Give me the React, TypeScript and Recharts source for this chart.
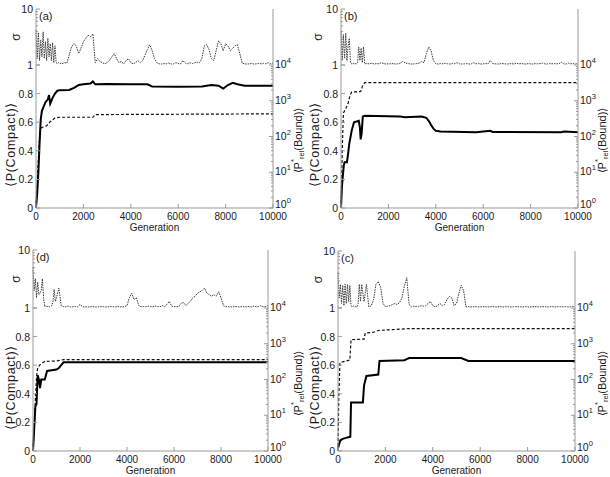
import React from 'react';
import { LineChart, Line, XAxis, YAxis } from 'recharts';

const FONT = '"Liberation Sans", Arial, Helvetica, sans-serif';
const AXIS = '#9a9a9a';
const TXT = '#1a1a1a';

// ---------- ticks ----------
const GEN_TICKS = [0, 2000, 4000, 6000, 8000, 10000];
const SIGMA_TICKS = [1, 2, 3, 4, 5, 6, 7, 8, 9, 10];
const COMPACT_TICKS = [0, 0.2, 0.4, 0.6, 0.8, 1];
const REL_TICKS = [
  1, 2, 3, 4, 5, 6, 7, 8, 9, 10, 20, 30, 40, 50, 60, 70, 80, 90, 100, 200, 300, 400, 500, 600, 700, 800,
  900, 1000, 2000, 3000, 4000, 5000, 6000, 7000, 8000, 9000, 10000,
];

// ---------- sigma generation grid ----------
const SIGMA_GEN = [
  0, 50, 100, 150, 200, 250, 300, 350, 400, 450, 500, 550, 600, 650, 700, 750, 800, 850, 900, 950, 1000,
  1100, 1200, 1300, 1400, 1500, 1600, 1700, 1800, 1900, 2000,
  2100, 2200, 2300, 2400, 2500, 2600, 2700, 2800, 2900, 3000,
  3100, 3200, 3300, 3400, 3500, 3600, 3700, 3800, 3900, 4000,
  4100, 4200, 4300, 4400, 4500, 4600, 4700, 4800, 4900, 5000,
  5100, 5200, 5300, 5400, 5500, 5600, 5700, 5800, 5900, 6000,
  6100, 6200, 6300, 6400, 6500, 6600, 6700, 6800, 6900, 7000,
  7100, 7200, 7300, 7400, 7500, 7600, 7700, 7800, 7900, 8000,
  8100, 8200, 8300, 8400, 8500, 8600, 8700, 8800, 8900, 9000,
  9100, 9200, 9300, 9400, 9500, 9600, 9700, 9800, 9900, 10000,
];

// ---------- panel (a) ----------
const sigmaA = [
  4.2, 1.3, 3.8, 1.2, 2.8, 1.4, 3.9, 1.3, 2.6, 1.2, 3.0, 1.4, 2.4, 1.2, 2.5, 1.1, 2.2, 1.1, 1.05, 1.1, 1.08,
  1.05, 1.1, 1.08, 1.5, 2.1, 2.4, 2.2, 1.6, 2.0, 2.6,
  3.0, 3.4, 3.2, 3.6, 1.1, 1.3, 1.15, 1.1, 1.05, 1.1,
  1.2, 1.4, 1.6, 1.3, 1.1, 1.15, 1.05, 1.2, 1.3, 1.1,
  1.05, 1.1, 1.2, 1.1, 1.2, 1.5, 1.9, 2.3, 1.8, 1.3,
  1.1, 1.05, 1.04, 1.06, 1.05, 1.08, 1.04, 1.05, 1.1, 1.06,
  1.05, 1.2, 1.08, 1.05, 1.1, 1.06, 1.1, 1.12, 1.1, 1.3,
  2.2, 2.3, 1.9, 1.3, 1.2, 1.8, 2.7, 2.4, 1.8, 2.4,
  2.2, 1.8, 2.0, 2.2, 2.3, 1.6, 1.08, 1.05, 1.04, 1.05,
  1.06, 1.04, 1.05, 1.07, 1.05, 1.06, 1.05, 1.1, 1.06, 1.08,
];
const compactA: [number, number][] = [
  [0, 0], [50, 0.1], [100, 0.25], [150, 0.45], [200, 0.62], [250, 0.68], [300, 0.7], [400, 0.74],
  [500, 0.76], [550, 0.79], [600, 0.73], [700, 0.77], [800, 0.8], [900, 0.82], [1000, 0.823],
  [1400, 0.825], [1600, 0.84], [1800, 0.86], [2000, 0.865], [2300, 0.87], [2400, 0.885], [2500, 0.865],
  [3000, 0.867], [4000, 0.865], [4700, 0.865], [4900, 0.85], [6000, 0.848], [7000, 0.85], [7400, 0.86],
  [7700, 0.855], [7900, 0.835], [8100, 0.86], [8300, 0.875], [8500, 0.865], [8800, 0.855], [10000, 0.855],
];
const relA: [number, number][] = [
  [0, 1], [50, 4], [100, 23], [150, 90], [200, 170], [300, 185], [450, 200], [600, 260], [800, 330],
  [1000, 345], [2400, 345], [2500, 410], [10000, 430],
];

// ---------- panel (b) ----------
const sigmaB = [
  4.0, 1.2, 3.5, 1.3, 3.7, 1.2, 2.2, 3.0, 1.1, 1.05, 1.08, 1.04, 1.06, 1.05, 1.1, 2.1, 1.2, 2.0, 1.1, 2.1, 1.05,
  1.06, 1.05, 1.08, 1.04, 1.06, 1.05, 1.1, 1.06, 1.04, 1.05,
  1.05, 1.06, 1.04, 1.05, 1.08, 1.15, 1.1, 1.06, 1.05, 1.04,
  1.05, 1.06, 1.08, 1.15, 1.1, 1.6, 2.1, 1.8, 1.2, 1.05,
  1.04, 1.06, 1.05, 1.08, 1.05, 1.04, 1.06, 1.05, 1.1, 1.05,
  1.04, 1.05, 1.06, 1.04, 1.05, 1.1, 1.05, 1.06, 1.04, 1.05,
  1.06, 1.05, 1.2, 1.06, 1.05, 1.04, 1.05, 1.06, 1.05, 1.04,
  1.05, 1.06, 1.04, 1.08, 1.05, 1.06, 1.05, 1.04, 1.06, 1.05,
  1.04, 1.06, 1.05, 1.06, 1.08, 1.05, 1.04, 1.06, 1.05, 1.06,
  1.05, 1.06, 1.12, 1.05, 1.04, 1.08, 1.05, 1.06, 1.04, 1.08,
];
const compactB: [number, number][] = [
  [0, 0], [40, 0.15], [80, 0.23], [120, 0.3], [150, 0.32], [250, 0.32], [300, 0.38], [350, 0.45],
  [450, 0.54], [550, 0.6], [750, 0.61], [800, 0.56], [830, 0.48], [870, 0.52], [920, 0.64], [1000, 0.645],
  [2500, 0.64], [2700, 0.635], [3400, 0.64], [3600, 0.63], [3700, 0.61], [3800, 0.58], [3900, 0.555],
  [4000, 0.54], [4200, 0.535], [5700, 0.53], [6300, 0.54], [6400, 0.532], [9300, 0.53], [9400, 0.535],
  [10000, 0.53],
];
const relB: [number, number][] = [
  [0, 1], [30, 8], [60, 60], [100, 450], [200, 600], [300, 850], [380, 1400], [450, 1750], [800, 1800],
  [850, 1900], [900, 2500], [1000, 3200], [10000, 3200],
];

// ---------- panel (d) ----------
const sigmaD = [
  5.0, 2.0, 3.2, 1.5, 2.8, 1.7, 1.8, 2.0, 3.2, 1.5, 1.05, 1.1, 1.05, 1.08, 1.05, 1.06, 1.1, 1.3, 2.1, 1.3, 1.5,
  2.2, 1.1, 1.06, 1.05, 1.08, 1.04, 1.05, 1.06, 1.05, 1.15,
  1.06, 1.04, 1.05, 1.04, 1.06, 1.05, 1.04, 1.05, 1.06, 1.05,
  1.04, 1.05, 1.06, 1.05, 1.04, 1.06, 1.05, 1.04, 1.06, 1.1,
  1.5, 1.8, 1.4, 1.5, 1.1, 1.05, 1.06, 1.05, 1.08, 1.06,
  1.05, 1.08, 1.06, 1.05, 1.1, 1.06, 1.15, 1.3, 1.08, 1.05,
  1.06, 1.05, 1.2, 1.25, 1.1, 1.2, 1.3, 1.5, 1.6, 1.8,
  1.9, 2.0, 2.2, 1.8, 1.7, 1.6, 1.7, 1.6, 1.9, 1.5,
  1.1, 1.05, 1.06, 1.04, 1.05, 1.06, 1.05, 1.04, 1.06, 1.05,
  1.05, 1.06, 1.04, 1.08, 1.05, 1.06, 1.1, 1.05, 1.06, 1.1,
];
const compactD: [number, number][] = [
  [0, 0], [50, 0.15], [100, 0.31], [150, 0.33], [200, 0.53], [250, 0.5], [300, 0.44], [350, 0.5],
  [500, 0.5], [550, 0.53], [600, 0.56], [1000, 0.57], [1100, 0.58], [1200, 0.6], [1300, 0.62], [10000, 0.62],
];
const relD: [number, number][] = [
  [0, 1], [50, 4], [100, 26], [150, 120], [200, 210], [300, 260], [500, 320], [1000, 330], [1300, 360],
  [10000, 360],
];

// ---------- panel (c) ----------
const sigmaC = [
  4.2, 1.5, 2.6, 1.2, 2.5, 1.1, 2.6, 1.2, 2.6, 1.3, 2.5, 1.1, 1.05, 1.08, 1.05, 1.06, 1.05, 1.2, 2.6, 1.3, 2.6,
  1.3, 2.6, 1.05, 1.08, 1.4, 2.6, 2.9, 2.3, 1.2, 1.05,
  1.08, 1.1, 1.15, 1.2, 1.15, 1.25, 1.5, 2.4, 3.4, 1.15,
  1.05, 1.08, 1.06, 1.05, 1.1, 1.08, 1.1, 1.2, 1.3, 1.1,
  1.05, 1.1, 1.2, 1.1, 1.15, 1.4, 1.6, 1.5, 1.1, 1.2,
  1.8, 2.5, 2.0, 1.05, 1.06, 1.04, 1.05, 1.06, 1.04, 1.05,
  1.05, 1.06, 1.04, 1.05, 1.06, 1.05, 1.04, 1.06, 1.05, 1.04,
  1.06, 1.05, 1.04, 1.05, 1.06, 1.05, 1.05, 1.04, 1.06, 1.05,
  1.04, 1.05, 1.06, 1.05, 1.04, 1.06, 1.05, 1.05, 1.04, 1.06,
  1.05, 1.04, 1.06, 1.05, 1.05, 1.06, 1.04, 1.05, 1.06, 1.05,
];
const compactC: [number, number][] = [
  [0, 0.02], [50, 0.05], [100, 0.075], [200, 0.085], [400, 0.095], [520, 0.1], [550, 0.34], [1050, 0.34],
  [1100, 0.46], [1200, 0.525], [1700, 0.535], [1750, 0.63], [2800, 0.635], [3000, 0.65], [5200, 0.65],
  [5500, 0.63], [10000, 0.63],
];
const relC: [number, number][] = [
  [0, 1], [30, 26], [80, 280], [100, 300], [500, 350], [550, 1300], [1100, 1350], [1150, 2000],
  [1500, 2100], [1700, 2350], [3000, 2650], [10000, 2650],
];

// ---------- helpers ----------
const sigmaData = (vals: number[]) => SIGMA_GEN.map((g, i) => ({ g, v: vals[i] }));
const pairData = (arr: [number, number][]) => arr.map(([g, v]) => ({ g, v }));
const isPow10 = (v: number) => Math.abs(Math.log10(v) - Math.round(Math.log10(v))) < 1e-9;

const fmtCompact = (v: number) => (v === 1 ? null : v === 0 ? '0' : v.toFixed(1));

const TICK_FS = 10.5;

const LeftTick = (p: any, labelFn: (v: number) => string | null, majorFn: (v: number) => boolean) => {
  const { x, y, payload } = p;
  const v = payload.value;
  const lab = labelFn(v);
  const len = majorFn(v) ? 4 : 2;
  return (
    <g key={`lt-${v}`}>
      <line x1={x} x2={x + len} y1={y} y2={y} stroke={AXIS} strokeWidth={1} />
      {lab !== null && (
        <text x={x - 3} y={y + 4} textAnchor="end" fontSize={TICK_FS} fill={TXT} fontFamily={FONT}>
          {lab}
        </text>
      )}
    </g>
  );
};

const RightTick = (p: any, withLabels: boolean) => {
  const { x, y, payload } = p;
  const v = payload.value;
  const major = isPow10(v);
  const len = major ? 4 : 2;
  const exp = Math.round(Math.log10(v));
  return (
    <g key={`rt-${v}`}>
      <line x1={x} x2={x - len} y1={y} y2={y} stroke={AXIS} strokeWidth={1} />
      {withLabels && major && (
        <text x={x + 2} y={y + (exp === 0 ? 0 : 3)} textAnchor="start" fontSize={TICK_FS} fill={TXT} fontFamily={FONT}>
          10
          <tspan dy={-5} fontSize={7.5}>
            {exp}
          </tspan>
        </text>
      )}
    </g>
  );
};

const BottomTick = (p: any) => {
  const { x, y, payload } = p;
  return (
    <g key={`bt-${payload.value}`}>
      <line x1={x} x2={x} y1={y} y2={y - 4} stroke={AXIS} strokeWidth={1} />
      <text x={x} y={y + 11.5} textAnchor="middle" fontSize={10} fill={TXT} fontFamily={FONT}>
        {payload.value}
      </text>
    </g>
  );
};

const TopTick = (p: any) => {
  const { x, y, payload } = p;
  return (
    <g key={`tt-${payload.value}`}>
      <line x1={x} x2={x} y1={y} y2={y + 4} stroke={AXIS} strokeWidth={1} />
    </g>
  );
};

type Cfg = {
  letter: string;
  colX: number;
  colW: number;
  px: number;
  pw: number;
  sy: number;
  sh: number;
  ph: number;
  sigma: number[];
  compact: [number, number][];
  rel: [number, number][];
};

const PANELS: Cfg[] = [
  { letter: '(a)', colX: 0, colW: 305, px: 36, pw: 237, sy: 9, sh: 56, ph: 143, sigma: sigmaA, compact: compactA, rel: relA },
  { letter: '(b)', colX: 300, colW: 310, px: 341, pw: 237, sy: 9, sh: 56, ph: 143, sigma: sigmaB, compact: compactB, rel: relB },
  { letter: '(d)', colX: 0, colW: 305, px: 33, pw: 235, sy: 250, sh: 58, ph: 143, sigma: sigmaD, compact: compactD, rel: relD },
  { letter: '(c)', colX: 300, colW: 310, px: 338, pw: 237, sy: 251, sh: 57, ph: 143, sigma: sigmaC, compact: compactC, rel: relC },
];

function Panel({ cfg }: { cfg: Cfg }) {
  const { colX, colW, px, pw, sy, sh, ph } = cfg;
  const L = px - colX;
  const R = colX + colW - (px + pw);
  const W = L + pw + R;
  const py = sy + sh;
  const sData = sigmaData(cfg.sigma);
  const cData = pairData(cfg.compact);
  const rData = pairData(cfg.rel);
  return (
    <>
      <div style={{ position: 'absolute', left: colX, top: sy - 8, width: W, height: sh + 16 }}>
        <LineChart width={W} height={sh + 16} margin={{ top: 8, right: 0, bottom: 8, left: 0 }}>
          <XAxis
            xAxisId="b"
            type="number"
            dataKey="g"
            domain={[0, 10000]}
            ticks={GEN_TICKS}
            interval={0}
            height={0}
            tick={false}
            tickLine={false}
            axisLine={{ stroke: '#b8b8b8', strokeWidth: 2 }}
          />
          <XAxis
            xAxisId="t"
            orientation="top"
            type="number"
            dataKey="g"
            domain={[0, 10000]}
            ticks={GEN_TICKS}
            interval={0}
            height={0}
            tickSize={0}
            tickMargin={0}
            tickLine={false}
            tick={TopTick}
            axisLine={{ stroke: AXIS }}
          />
          <YAxis
            yAxisId="l"
            scale="log"
            domain={[1, 10]}
            ticks={SIGMA_TICKS}
            interval={0}
            width={L}
            tickSize={0}
            tickMargin={0}
            tickLine={false}
            axisLine={{ stroke: AXIS }}
            tick={(p: any) => LeftTick(p, (v) => (v === 1 || v === 10 ? String(v) : null), (v) => v === 1 || v === 10)}
          />
          <YAxis
            yAxisId="r"
            orientation="right"
            scale="log"
            domain={[1, 10]}
            ticks={SIGMA_TICKS}
            interval={0}
            width={R}
            tickSize={0}
            tickMargin={0}
            tickLine={false}
            axisLine={{ stroke: AXIS }}
            tick={(p: any) => RightTick(p, false)}
          />
          <Line
            xAxisId="b"
            yAxisId="l"
            data={sData}
            dataKey="v"
            stroke="#3a3a3a"
            strokeWidth={1}
            strokeDasharray="1.5 1"
            dot={false}
            isAnimationActive={false}
          />
        </LineChart>
      </div>
      <div style={{ position: 'absolute', left: colX, top: py - 8, width: W, height: ph + 34 }}>
        <LineChart width={W} height={ph + 34} margin={{ top: 8, right: 0, bottom: 0, left: 0 }}>
          <XAxis
            xAxisId="b"
            type="number"
            dataKey="g"
            domain={[0, 10000]}
            ticks={GEN_TICKS}
            interval={0}
            height={26}
            tickSize={0}
            tickMargin={0}
            tickLine={false}
            tick={BottomTick}
            axisLine={{ stroke: AXIS }}
          />
          <YAxis
            yAxisId="l"
            type="number"
            domain={[0, 1]}
            ticks={COMPACT_TICKS}
            interval={0}
            width={L}
            tickSize={0}
            tickMargin={0}
            tickLine={false}
            axisLine={{ stroke: AXIS }}
            tick={(p: any) => LeftTick(p, fmtCompact, () => true)}
          />
          <YAxis
            yAxisId="r"
            orientation="right"
            scale="log"
            domain={[1, 10000]}
            ticks={REL_TICKS}
            interval={0}
            width={R}
            tickSize={0}
            tickMargin={0}
            tickLine={false}
            axisLine={{ stroke: AXIS }}
            tick={(p: any) => RightTick(p, true)}
          />
          <Line
            xAxisId="b"
            yAxisId="r"
            data={rData}
            dataKey="v"
            stroke="#111"
            strokeWidth={1.2}
            strokeDasharray="3 2"
            dot={false}
            isAnimationActive={false}
          />
          <Line
            xAxisId="b"
            yAxisId="l"
            data={cData}
            dataKey="v"
            stroke="#000"
            strokeWidth={2}
            dot={false}
            isAnimationActive={false}
          />
        </LineChart>
      </div>
    </>
  );
}

function Titles({ cfg }: { cfg: Cfg }) {
  const { colX, px, pw, sy, sh, ph } = cfg;
  const py = sy + sh;
  const leftX = colX + (colX === 0 ? 11 : 15);
  const rightX = colX === 0 ? 298 : 602;
  const midP = py + ph / 2;
  const sigX = colX + (colX === 0 ? 16 : 18);
  return (
    <g fontFamily={FONT} fill={TXT}>
      <text x={px + 3} y={sy + 11} fontSize={11}>
        {cfg.letter}
      </text>
      <text
        x={sigX}
        y={sy + sh / 2}
        fontSize={12}
        textAnchor="middle"
        dominantBaseline="central"
        transform={`rotate(-90 ${sigX} ${sy + sh / 2})`}
      >
        σ
      </text>
      <text
        x={leftX}
        y={midP + 8}
        fontSize={12.5}
        letterSpacing={0.7}
        textAnchor="middle"
        dominantBaseline="central"
        transform={`rotate(-90 ${leftX} ${midP + 8})`}
      >
        ⟨P(Compact)⟩
      </text>
      <text
        x={rightX}
        y={midP + 4}
        fontSize={11}
        textAnchor="middle"
        dominantBaseline="central"
        transform={`rotate(-90 ${rightX} ${midP + 4})`}
      >
        ⟨P
        <tspan fontSize={7.5} dy={-5}>
          *
        </tspan>
        <tspan fontSize={7.5} dy={8}>
          rel
        </tspan>
        <tspan dy={-3}>(Bound)⟩</tspan>
      </text>
      <text x={px + pw / 2} y={py + ph + 22.5} fontSize={10} textAnchor="middle">
        Generation
      </text>
    </g>
  );
}

export default function App() {
  return (
    <div style={{ position: 'absolute', left: 0, top: 0, width: 610, height: 477, background: '#fff', overflow: 'hidden' }}>
      {PANELS.map((c) => (
        <Panel key={c.letter} cfg={c} />
      ))}
      <svg width={610} height={477} style={{ position: 'absolute', left: 0, top: 0, pointerEvents: 'none' }}>
        {PANELS.map((c) => (
          <Titles key={c.letter} cfg={c} />
        ))}
      </svg>
    </div>
  );
}
